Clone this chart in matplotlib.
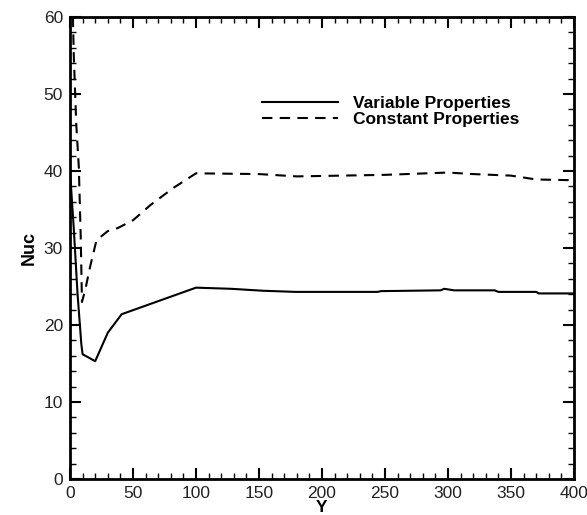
import matplotlib
matplotlib.use("Agg")
import matplotlib.pyplot as plt
from matplotlib.ticker import MultipleLocator

# ----------------------------------------------------
#                     DATA
# ----------------------------------------------------
y_var = [0, 3, 6, 9, 10, 20, 30, 41, 100, 128, 153, 179, 244, 247, 294, 297, 305, 337, 340, 370, 372, 400]
nuc_var = [40.0, 32.5, 24.0, 17.5, 16.2, 15.3, 19.0, 21.4, 24.85, 24.7, 24.45, 24.3, 24.3, 24.4, 24.5, 24.7, 24.5, 24.5, 24.3, 24.3, 24.1, 24.1]

y_const = [1.5, 3, 5, 7, 8.5, 9.5, 12, 16, 21, 30, 38, 50, 64, 82, 100, 150, 180, 250, 300, 320, 350, 370, 400]
nuc_const = [66.0, 55.0, 46.0, 40.5, 31.5, 23.0, 24.5, 27.6, 31.0, 32.2, 32.6, 33.6, 35.6, 37.8, 39.7, 39.6, 39.3, 39.5, 39.8, 39.6, 39.4, 38.9, 38.8]

series_labels = ["Variable Properties", "Constant Properties"]

# ----------------------------------------------------
#                     PLOT
# ----------------------------------------------------
plt.rcParams["font.family"] = ["Liberation Sans", "DejaVu Sans"]

fig = plt.figure(figsize=(5.87, 5.15), dpi=100)
ax = fig.add_axes([70 / 587, 1 - 479 / 515, 504 / 587, 462 / 515])

ax.plot(y_var, nuc_var, color="black", lw=1.5, label=series_labels[0])
ax.plot(y_const, nuc_const, color="black", lw=1.5, dashes=(5, 3.5), label=series_labels[1])

ax.set_xlim(0, 400)
ax.set_ylim(0, 60)

ax.xaxis.set_major_locator(MultipleLocator(50))
ax.xaxis.set_minor_locator(MultipleLocator(10))
ax.yaxis.set_major_locator(MultipleLocator(10))
ax.yaxis.set_minor_locator(MultipleLocator(2))

ax.tick_params(which="both", direction="in", top=True, right=True, colors="black")
ax.tick_params(which="major", length=8, width=1.5, labelsize=12.5, pad=5, labelcolor="#222222")
ax.tick_params(which="minor", length=4.5, width=1.0)
for s in ax.spines.values():
    s.set_linewidth(2)

ax.set_xlabel("Y", fontsize=12.5, fontweight="bold", labelpad=-1)
ax.set_ylabel("Nuc", fontsize=13, fontweight="bold", labelpad=4)

leg = ax.legend(
    loc="upper left",
    bbox_to_anchor=(262 / 587, 1 - 96 / 515),
    bbox_transform=fig.transFigure,
    frameon=False,
    borderpad=0,
    borderaxespad=0,
    handlelength=4.4,
    handletextpad=0.85,
    labelspacing=0.05,
    prop={"size": 12.5, "weight": "bold"},
)

fig.savefig("out.png", dpi=100)
